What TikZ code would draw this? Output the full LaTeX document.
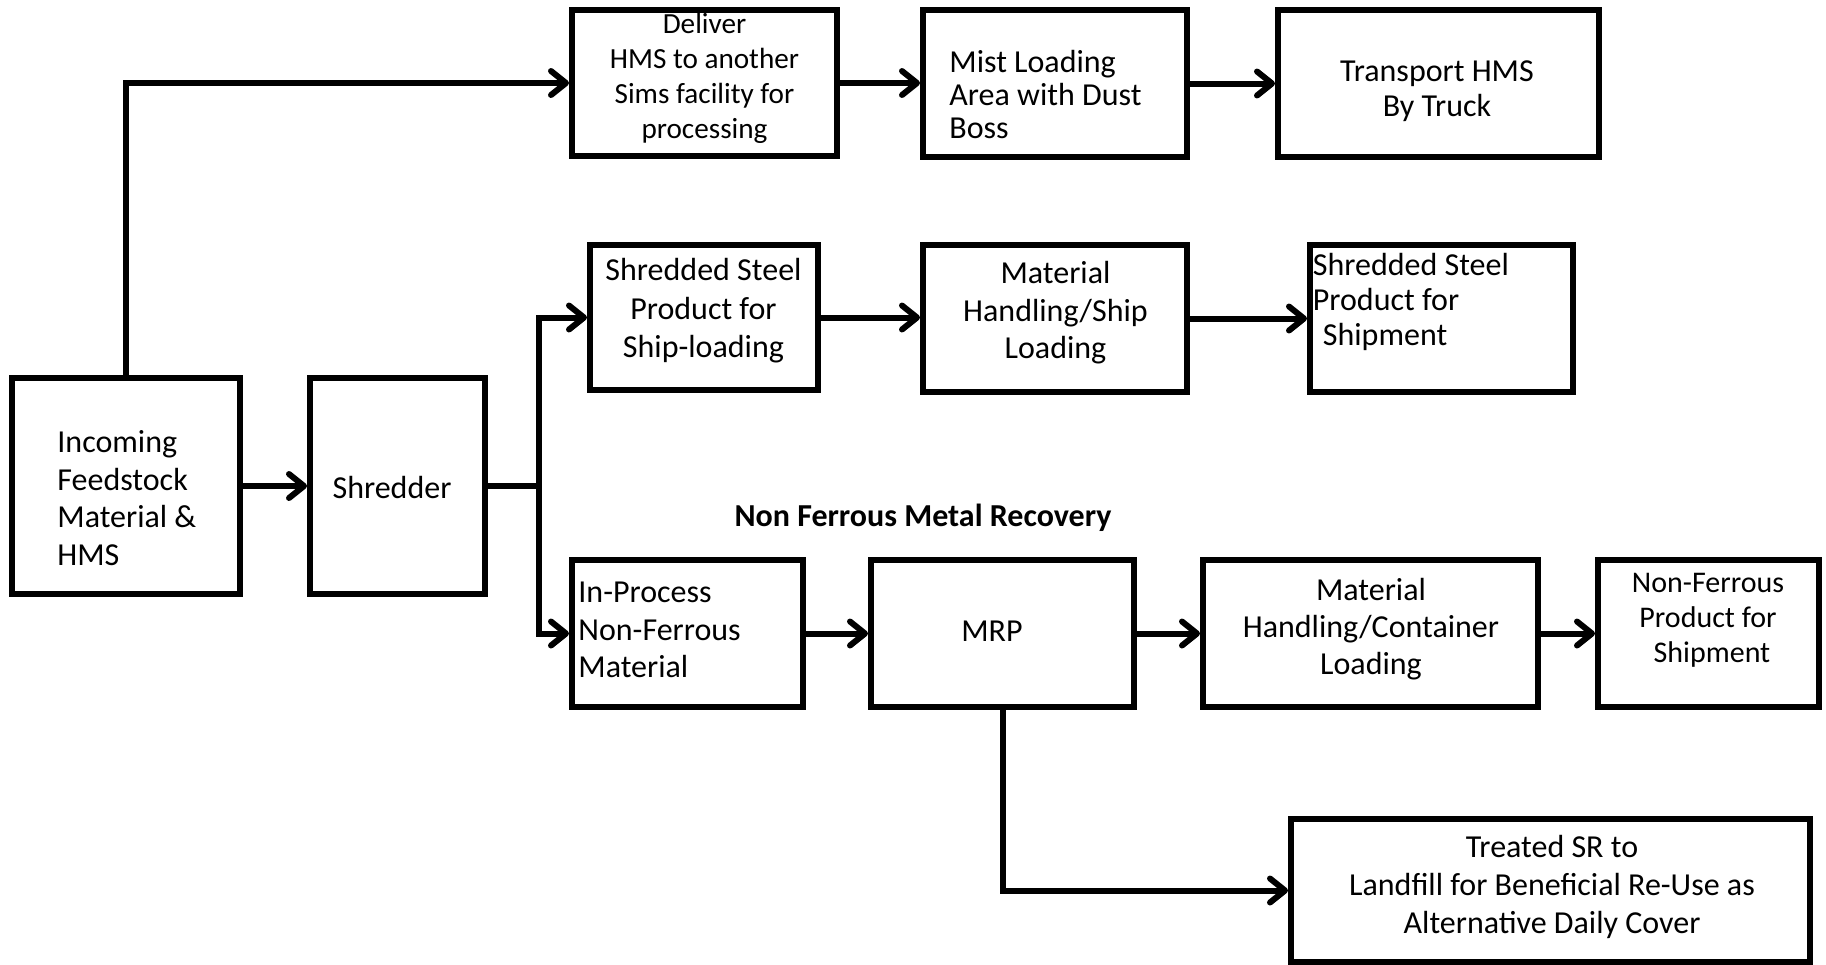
\documentclass[tikz,border=0pt]{standalone}
\usepackage{fontspec}
\setmainfont{Carlito}
\usetikzlibrary{arrows.meta}
\begin{document}
\begin{tikzpicture}[x=0.5pt,y=-0.5pt,
  box/.style={draw, line width=3pt, inner sep=0pt},
  lbl/.style={inner sep=0pt, align=center, font=\fontsize{16}{17.5}\selectfont},
  lbll/.style={inner sep=0pt, align=left, anchor=west, font=\fontsize{16}{17.5}\selectfont},
  flow/.style={line width=3pt, -{Straight Barb[length=7.5pt,width=12pt,round]}},
  plain/.style={line width=3pt}]
\useasboundingbox (0,0) rectangle (1826,964);
% boxes
\node[box, minimum width=114pt, minimum height=108pt] (inc) at (126,486) {};
\node[box, minimum width=87.5pt, minimum height=108pt] (shred) at (397.5,486) {};
\node[box, minimum width=132.5pt, minimum height=73pt] (deliver) at (704.5,83) {};
\node[box, minimum width=132pt, minimum height=73.5pt] (mist) at (1055,83.5) {};
\node[box, minimum width=160.5pt, minimum height=73.5pt] (transport) at (1438.5,83.5) {};
\node[box, minimum width=114pt, minimum height=72.5pt] (steel) at (704,317.5) {};
\node[box, minimum width=132pt, minimum height=73.5pt] (mhship) at (1055,318.5) {};
\node[box, minimum width=131.5pt, minimum height=73.5pt] (shipment) at (1441.5,318.5) {};
\node[box, minimum width=115.5pt, minimum height=73.5pt] (inproc) at (687.5,633.5) {};
\node[box, minimum width=131.5pt, minimum height=73.5pt] (mrp) at (1002.5,633.5) {};
\node[box, minimum width=167.5pt, minimum height=73.5pt] (mhcont) at (1370.5,633.5) {};
\node[box, minimum width=110.5pt, minimum height=73.5pt] (nfprod) at (1708.5,633.5) {};
\node[box, minimum width=259.5pt, minimum height=71.5pt] (treated) at (1550.5,890.5) {};
% labels
\node[lbll, font=\fontsize{16}{18.8}\selectfont] (tinc) at (57,498) {Incoming\\Feedstock\\Material \&\\HMS};
\node[lbl] (tshred) at (392,487) {Shredder};
\node[lbl, font=\fontsize{14.6}{17.5}\selectfont] (tdeliver) at (704.5,78) {Deliver\\HMS to another\\Sims facility for\\processing};
\node[lbll, font=\fontsize{16}{16.5}\selectfont] (tmist) at (949,95) {Mist Loading\\Area with Dust\\Boss};
\node[lbl] (ttransport) at (1437,91) {Transport HMS\\By Truck};
\node[lbl, font=\fontsize{16}{19.2}\selectfont] (tsteel) at (703.5,311) {Shredded Steel\\Product for\\Ship-loading};
\node[lbl, font=\fontsize{16}{18.8}\selectfont] (tmhship) at (1055.5,313) {Material\\Handling/Ship\\Loading};
\node[lbll] (tshipment) at (1312.5,302) {Shredded Steel\\Product for\\\hspace*{5pt}Shipment};
\node[inner sep=0pt, font=\fontsize{16}{17.5}\selectfont\bfseries] (title) at (923,518) {Non Ferrous Metal Recovery};
\node[lbll, font=\fontsize{16}{18.8}\selectfont] (tinproc) at (578,630) {In-Process\\Non-Ferrous\\Material};
\node[lbl] (tmrp) at (992,631) {MRP};
\node[lbl, font=\fontsize{16}{18.5}\selectfont] (tmhcont) at (1371,629) {Material\\Handling/Container\\Loading};
\node[lbl, font=\fontsize{15}{17.5}\selectfont] (tnfprod) at (1708,620) {Non-Ferrous\\Product for\\\hspace*{4pt}Shipment};
\node[lbl, font=\fontsize{16}{19.2}\selectfont] (ttreated) at (1552,887) {Treated SR to\\Landfill for Beneficial Re-Use as\\Alternative Daily Cover};
% connectors
\coordinate (br) at (539,486);
\draw[flow] (inc.north) |- (deliver.west);
\draw[flow] (deliver.east) -- (deliver.east -| mist.west);
\draw[flow] (mist.east) -- (mist.east -| transport.west);
\draw[flow] (inc.east) -- (shred.west);
\draw[plain] (shred.east) -- (br);
\draw[flow] (br) |- (steel.west);
\draw[flow] (br) |- (inproc.west);
\draw[flow] (steel.east) -- (steel.east -| mhship.west);
\draw[flow] (mhship.east) -- (shipment.west);
\draw[flow] (inproc.east) -- (mrp.west);
\draw[flow] (mrp.east) -- (mhcont.west);
\draw[flow] (mhcont.east) -- (nfprod.west);
\draw[flow] (mrp.south) |- (treated.west);
\end{tikzpicture}
\end{document}
